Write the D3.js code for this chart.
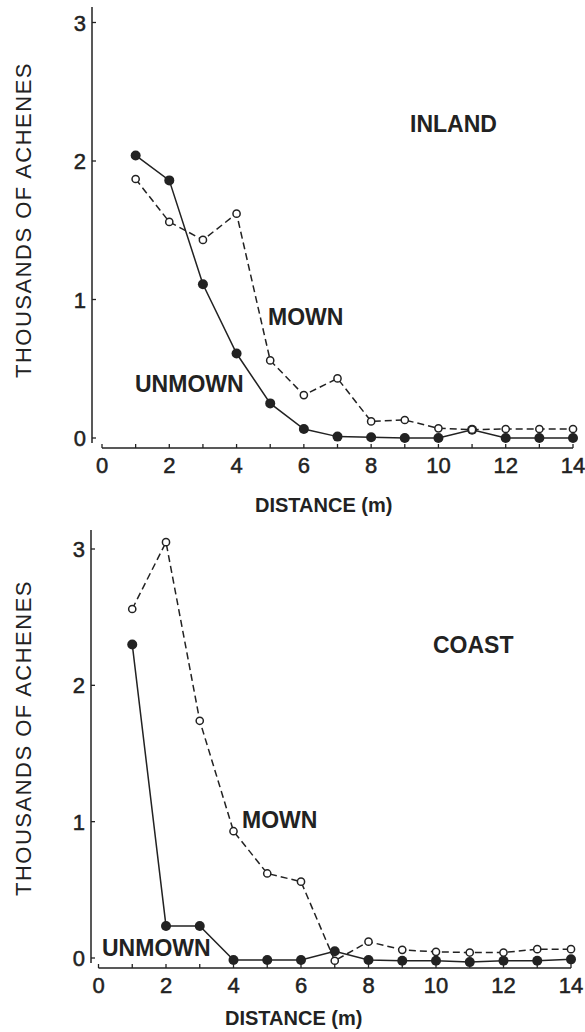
<!DOCTYPE html>
<html>
<head>
<meta charset="utf-8">
<script src="https://cdn.jsdelivr.net/npm/d3@7"></script>
<style>
  body { margin: 0; background: #fff; }
  text { font-family: "Liberation Sans", Arial, sans-serif; fill: #222; }
</style>
</head>
<body>
<svg id="chart" width="585" height="1032"></svg>
<script>
// Achene counts by distance, two sites, mown vs unmown

const distance = [1, 2, 3, 4, 5, 6, 7, 8, 9, 10, 11, 12, 13, 14];
const inlandUnmown = [2.04, 1.86, 1.11, 0.61, 0.25, 0.065, 0.01, 0.005, 0.0, 0.0, 0.06, 0.0, 0.0, 0.0];
const inlandMown = [1.87, 1.56, 1.43, 1.62, 0.56, 0.31, 0.43, 0.12, 0.13, 0.07, 0.06, 0.065, 0.065, 0.065];
const coastUnmown = [2.30, 0.235, 0.235, -0.015, -0.015, -0.015, 0.05, -0.015, -0.02, -0.02, -0.03, -0.02, -0.02, -0.01];
const coastMown = [2.56, 3.05, 1.74, 0.93, 0.62, 0.56, -0.02, 0.12, 0.06, 0.045, 0.04, 0.04, 0.065, 0.065];
const yTicks = [0, 1, 2, 3];
const xTicks = [0, 1, 2, 3, 4, 5, 6, 7, 8, 9, 10, 11, 12, 13, 14];
const xLabels = [0, 2, 4, 6, 8, 10, 12, 14];

let svg = d3.select("#chart");
const ink = "#222";

// panel settings (pixel layout of each panel)
const panels = [
    {
        site: "INLAND", unmown: inlandUnmown, mown: inlandMown,
        xRange: [102, 573], yRange: [438, 22.5], xAxisY: 448, yAxisX: 92, yAxisTop: 7,
        siteLabel: [410, 132], mownLabel: [268, 325], unmownLabel: [135, 392],
        titleX: 255, titleY: 512, yTitleCenter: 220
    },
    {
        site: "COAST", unmown: coastUnmown, mown: coastMown,
        xRange: [98.5, 571], yRange: [958, 549], xAxisY: 968, yAxisX: 91, yAxisTop: 530,
        siteLabel: [433, 653], mownLabel: [242, 828], unmownLabel: [102, 956],
        titleX: 225, titleY: 1025, yTitleCenter: 738
    }
];

panels.forEach(function (p) {
    let x = d3.scaleLinear().domain([0, 14]).range(p.xRange);
    let y = d3.scaleLinear().domain([0, 3]).range(p.yRange);
    let g = svg.append("g");

    // y axis line + inward ticks
    g.append("line")
        .attr("x1", p.yAxisX).attr("x2", p.yAxisX)
        .attr("y1", p.yAxisTop).attr("y2", y(0) + 5)
        .attr("stroke", ink).attr("stroke-width", 1.5);
    yTicks.forEach(function (t) {
        g.append("line")
            .attr("x1", p.yAxisX).attr("x2", p.yAxisX + 4)
            .attr("y1", y(t)).attr("y2", y(t))
            .attr("stroke", ink).attr("stroke-width", 1.3);
        g.append("text")
            .attr("x", p.yAxisX - 6).attr("y", y(t) + 8)
            .attr("text-anchor", "end")
            .style("font-size", "22px")
            .style("stroke", ink).style("stroke-width", 0.5)
            .text(t);
    });

    // x axis line + upward ticks
    g.append("line")
        .attr("x1", x(0)).attr("x2", x(14))
        .attr("y1", p.xAxisY).attr("y2", p.xAxisY)
        .attr("stroke", ink).attr("stroke-width", 1.5);
    xTicks.forEach(function (t) {
        g.append("line")
            .attr("x1", x(t)).attr("x2", x(t))
            .attr("y1", p.xAxisY).attr("y2", p.xAxisY - 4)
            .attr("stroke", ink).attr("stroke-width", 1.3);
    });
    xLabels.forEach(function (t) {
        g.append("text")
            .attr("x", x(t)).attr("y", p.xAxisY + 25)
            .attr("text-anchor", "middle")
            .style("font-size", "22px")
            .style("stroke", ink).style("stroke-width", 0.5)
            .text(t);
    });

    // axis titles
    g.append("text")
        .attr("x", p.titleX).attr("y", p.titleY)
        .style("font-size", "20px").style("font-weight", "bold")
        .text("DISTANCE (m)");
    g.append("text")
        .attr("transform", "translate(31," + p.yTitleCenter + ") rotate(-90)")
        .attr("text-anchor", "middle")
        .style("font-size", "22px")
        .style("letter-spacing", "1.5px")
        .text("THOUSANDS OF ACHENES");

    // series lines
    let line = d3.line().x((d, i) => x(distance[i])).y(d => y(d));
    g.append("path").datum(p.unmown)
        .attr("d", line)
        .attr("fill", "none").attr("stroke", ink).attr("stroke-width", 1.5);
    g.append("path").datum(p.mown)
        .attr("d", line)
        .attr("fill", "none").attr("stroke", ink).attr("stroke-width", 1.5)
        .attr("stroke-dasharray", "7,4");

    // markers
    g.selectAll("circle.unmown").data(p.unmown)
        .join("circle")
        .attr("class", "unmown")
        .attr("cx", (d, i) => x(distance[i]))
        .attr("cy", d => y(d))
        .attr("r", 5)
        .attr("fill", ink);
    g.selectAll("circle.mown").data(p.mown)
        .join("circle")
        .attr("class", "mown")
        .attr("cx", (d, i) => x(distance[i]))
        .attr("cy", d => y(d))
        .attr("r", 3.6)
        .attr("fill", "#fff")
        .attr("stroke", ink).attr("stroke-width", 1.5);

    // annotations
    g.append("text")
        .attr("x", p.siteLabel[0]).attr("y", p.siteLabel[1])
        .style("font-size", "23px").style("font-weight", "bold")
        .text(p.site);
    g.append("text")
        .attr("x", p.mownLabel[0]).attr("y", p.mownLabel[1])
        .style("font-size", "23px").style("font-weight", "bold")
        .text("MOWN");
    g.append("text")
        .attr("x", p.unmownLabel[0]).attr("y", p.unmownLabel[1])
        .style("font-size", "23px").style("font-weight", "bold")
        .text("UNMOWN");
});
</script>
</body>
</html>
